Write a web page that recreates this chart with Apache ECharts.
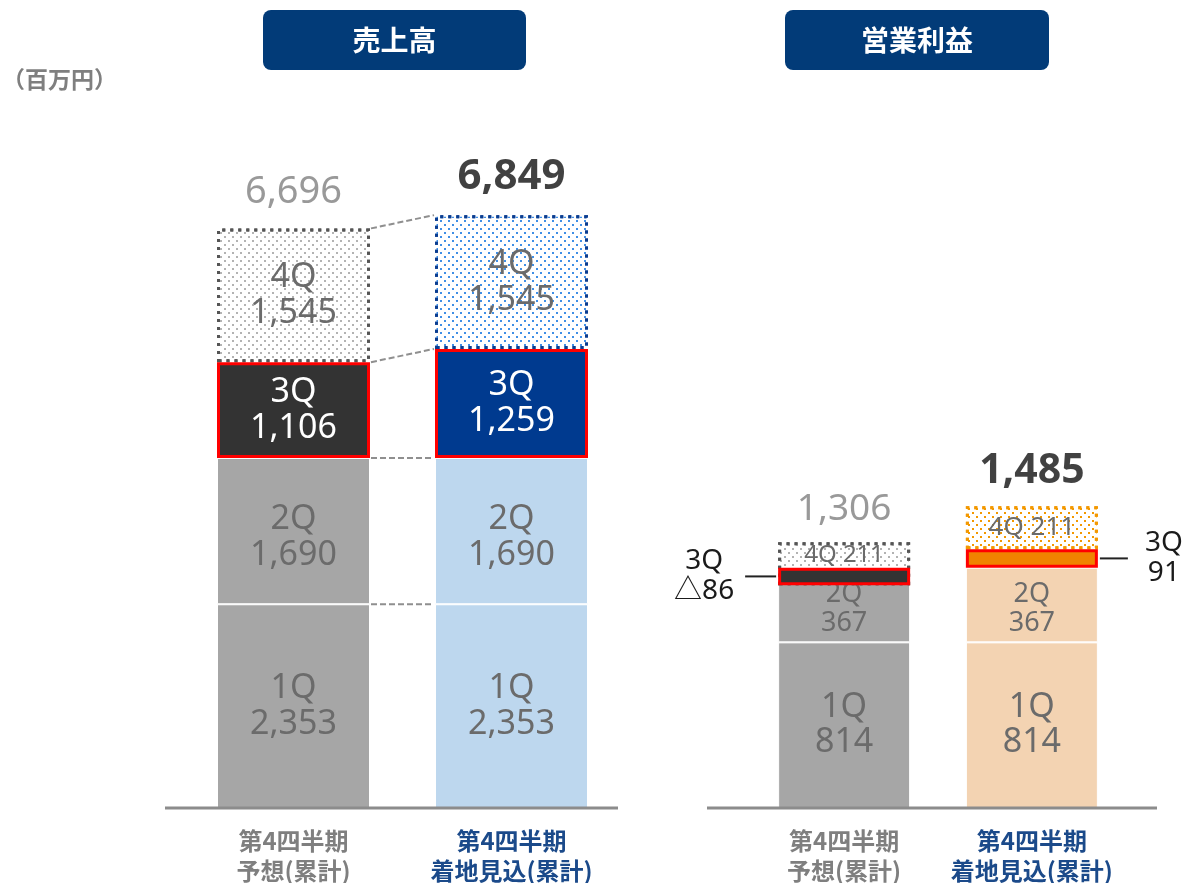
<!DOCTYPE html>
<html>
<head>
<meta charset="utf-8">
<script src="https://cdn.jsdelivr.net/npm/echarts@6/dist/echarts.min.js"></script>
<style>
html, body { margin: 0; padding: 0; background: #fff; }
#main { width: 1186px; height: 883px; }
</style>
</head>
<body>
<div id="main"></div>
<script>
// data
var categories = ['第4四半期\n予想(累計)', '第4四半期\n着地見込(累計)'];
var sales1Q = [2353, 2353];
var sales2Q = [1690, 1690];
var sales3Q = [1106, 1259];
var sales4Q = [1545, 1545];
var salesTotal = [6696, 6849];
var op1Q = [814, 814];
var op2Q = [367, 367];
var op3Q = [-86, 91];
var op4Q = [211, 211];
var opTotal = [1306, 1485];

var FF = "'Noto Sans CJK JP', 'Noto Sans', sans-serif";
var NF = "'Noto Sans', 'Noto Sans CJK JP', sans-serif";
var fmt = function (v) {
    return v < 0 ? '△' + Math.abs(v).toLocaleString('en-US') : v.toLocaleString('en-US');
};

var SALES_BW = 153, OP_BW = 132;

function dotDecal(color) {
    return {
        symbol: 'rect',
        symbolSize: 1,
        color: color,
        dashArrayX: [[2, 6], [0, 4, 2, 2]],
        dashArrayY: [2, 2]
    };
}

// 積み上げ用の item を作る
function items(arr, fn) {
    return arr.map(function (v, i) {
        var o = fn(i);
        o.value = v;
        return o;
    });
}

var innerLabel = {
    show: true,
    position: 'inside',
    color: '#6b6b6b',
    fontSize: 34,
    lineHeight: 36,
    fontFamily: NF
};

function chart() {
    var myChart = echarts.init(document.getElementById('main'));

    var salesFill = ['#a6a6a6', '#bdd7ee'];
    var sales3Fill = ['#333333', '#003a8f'];
    var salesDot = ['#b3b3b3', '#3f8fe6'];
    var salesDotBorder = ['#555555', '#0a3d91'];
    var opFill = ['#a6a6a6', '#f3d3b2'];
    var op3Fill = ['#333333', '#f08300'];
    var opDot = ['#b3b3b3', '#f39800'];
    var opDotBorder = ['#555555', '#f39800'];

    var option = {
        animation: false,
        grid: [
            { left: 184.5, right: 565.5, top: 115.3, bottom: 75, outerBoundsMode: 'none' },
            { left: 750.25, right: 60.25, top: 401, bottom: 75, outerBoundsMode: 'none' }
        ],
        xAxis: [0, 1].map(function (g) {
            return {
                type: 'category',
                gridIndex: g,
                data: [
                    { value: categories[0], textStyle: { color: '#7f7f7f' } },
                    { value: categories[1], textStyle: { color: '#1b4a8a' } }
                ],
                axisLine: { show: false },
                axisTick: { show: false },
                axisLabel: {
                    interval: 0,
                    margin: 18,
                    fontSize: 24,
                    lineHeight: 30,
                    fontWeight: 'bold',
                    fontFamily: FF
                }
            };
        }),
        yAxis: [
            { type: 'value', gridIndex: 0, min: 0, max: 8000, show: false },
            { type: 'value', gridIndex: 1, min: 0, max: 2000, show: false }
        ],
        series: [
            // 売上高
            {
                name: '1Q', type: 'bar', stack: 'sales', barWidth: SALES_BW,
                data: items(sales1Q, function (i) {
                    return { itemStyle: { color: salesFill[i], borderColor: '#fff', borderWidth: 1 } };
                }),
                label: Object.assign({}, innerLabel, { formatter: function (p) { return '1Q\n' + fmt(p.value); } })
            },
            {
                name: '2Q', type: 'bar', stack: 'sales', barWidth: SALES_BW,
                data: items(sales2Q, function (i) {
                    return { itemStyle: { color: salesFill[i], borderColor: '#fff', borderWidth: 1 } };
                }),
                label: Object.assign({}, innerLabel, { offset: [0, 6], formatter: function (p) { return '2Q\n' + fmt(p.value); } })
            },
            {
                name: '3Q', type: 'bar', stack: 'sales', barWidth: SALES_BW, z: 3,
                data: items(sales3Q, function (i) {
                    return { itemStyle: { color: sales3Fill[i], borderColor: '#ff0000', borderWidth: 3 } };
                }),
                label: Object.assign({}, innerLabel, { color: '#fff', formatter: function (p) { return '3Q\n' + fmt(p.value); } })
            },
            {
                name: '4Q', type: 'bar', stack: 'sales', barWidth: SALES_BW,
                data: items(sales4Q, function (i) {
                    return {
                        itemStyle: {
                            color: '#fff',
                            decal: dotDecal(salesDot[i]),
                            borderColor: salesDotBorder[i],
                            borderWidth: 3,
                            borderType: [3, 5]
                        }
                    };
                }),
                label: Object.assign({}, innerLabel, { formatter: function (p) { return '4Q\n' + fmt(p.value); } })
            },
            {
                name: 'total', type: 'scatter', symbolSize: 0,
                itemStyle: { color: '#fff' },
                data: items(salesTotal, function (i) {
                    return {
                        label: i === 0
                            ? { color: '#808080', fontSize: 38, fontWeight: 'normal' }
                            : { color: '#111111', fontSize: 42, fontWeight: 'bold' }
                    };
                }),
                label: {
                    show: true, position: 'top', distance: 17, fontFamily: NF,
                    formatter: function (p) { return fmt(p.value); }
                }
            },
            // 営業利益
            {
                name: '1Q', type: 'bar', stack: 'op', stackStrategy: 'all', barWidth: OP_BW,
                xAxisIndex: 1, yAxisIndex: 1,
                data: items(op1Q, function (i) {
                    return { itemStyle: { color: opFill[i], borderColor: '#fff', borderWidth: 1 } };
                }),
                label: Object.assign({}, innerLabel, { lineHeight: 35, formatter: function (p) { return '1Q\n' + fmt(p.value); } })
            },
            {
                name: '2Q', type: 'bar', stack: 'op', stackStrategy: 'all', barWidth: OP_BW,
                xAxisIndex: 1, yAxisIndex: 1,
                data: items(op2Q, function (i) {
                    return { itemStyle: { color: opFill[i], borderColor: '#fff', borderWidth: 1 } };
                }),
                label: Object.assign({}, innerLabel, {
                    position: 'insideBottom', distance: 5, fontSize: 27, lineHeight: 29,
                    formatter: function (p) { return '2Q\n' + fmt(p.value); }
                })
            },
            {
                name: '3Q', type: 'bar', stack: 'op', stackStrategy: 'all', barWidth: OP_BW,
                xAxisIndex: 1, yAxisIndex: 1, z: 3,
                data: items(op3Q, function (i) {
                    return {
                        itemStyle: { color: op3Fill[i], borderColor: '#ff0000', borderWidth: 3 },
                        label: i === 0
                            ? { position: 'left', distance: 74, align: 'center' }
                            : { position: 'right', distance: 66, align: 'center' }
                    };
                }),
                label: {
                    show: true, color: '#1a1a1a', fontSize: 28, lineHeight: 30, fontFamily: NF,
                    formatter: function (p) { return '3Q\n' + fmt(p.value); }
                }
            },
            {
                name: '4Q', type: 'bar', stack: 'op', stackStrategy: 'all', barWidth: OP_BW,
                xAxisIndex: 1, yAxisIndex: 1,
                data: items(op4Q, function (i) {
                    return {
                        itemStyle: {
                            color: '#fff',
                            decal: dotDecal(opDot[i]),
                            borderColor: opDotBorder[i],
                            borderWidth: 3,
                            borderType: [3, 5]
                        },
                        label: i === 0
                            ? { position: 'insideTop', distance: 1, fontSize: 24, lineHeight: 24 }
                            : { position: 'inside' }
                    };
                }),
                label: Object.assign({}, innerLabel, { fontSize: 26, lineHeight: 28, formatter: function (p) { return '4Q ' + fmt(p.value); } })
            },
            {
                name: 'total', type: 'scatter', symbolSize: 0,
                xAxisIndex: 1, yAxisIndex: 1,
                itemStyle: { color: '#fff' },
                data: items(opTotal, function (i) {
                    return {
                        label: i === 0
                            ? { color: '#808080', fontSize: 37, fontWeight: 'normal' }
                            : { color: '#111111', fontSize: 41, fontWeight: 'bold' }
                    };
                }),
                label: {
                    show: true, position: 'top', distance: 14, fontFamily: NF,
                    formatter: function (p) { return fmt(p.value); }
                }
            }
        ]
    };

    myChart.setOption(option);

    // 補助線などはスケールから座標を取って描く
    var g = [];
    function titleBox(x, w, text) {
        g.push({
            type: 'rect', shape: { x: x, y: 10, width: w, height: 60, r: 8 },
            style: { fill: '#023b78' }
        });
        g.push({
            type: 'text', x: x + w / 2, y: 40,
            style: { text: text, fill: '#fff', fontSize: 28, fontWeight: 'bold', fontFamily: FF, align: 'center', verticalAlign: 'middle' }
        });
    }
    titleBox(263, 263, '売上高');
    titleBox(785, 264, '営業利益');

    g.push({
        type: 'text', x: 2, y: 79,
        style: { text: '（百万円）', fill: '#7f7f7f', fontSize: 23, fontWeight: 'bold', fontFamily: FF, verticalAlign: 'middle' }
    });

    // 軸線
    var base = myChart.convertToPixel({ yAxisIndex: 0 }, 0);
    g.push({ type: 'line', z: 10, shape: { x1: 165, y1: base, x2: 618, y2: base }, style: { stroke: '#8c8c8c', lineWidth: 3 } });
    g.push({ type: 'line', z: 10, shape: { x1: 707, y1: base, x2: 1157, y2: base }, style: { stroke: '#8c8c8c', lineWidth: 3 } });

    // 売上高の破線（積み上げ境界どうしを結ぶ）
    var xl = myChart.convertToPixel({ xAxisIndex: 0 }, 0) + SALES_BW / 2 + 1;
    var xr = myChart.convertToPixel({ xAxisIndex: 0 }, 1) - SALES_BW / 2 - 1;
    var cumL = 0, cumR = 0;
    [sales1Q, sales2Q, sales3Q, sales4Q].forEach(function (arr) {
        cumL += arr[0];
        cumR += arr[1];
        g.push({
            type: 'line',
            shape: {
                x1: xl, y1: myChart.convertToPixel({ yAxisIndex: 0 }, cumL),
                x2: xr, y2: myChart.convertToPixel({ yAxisIndex: 0 }, cumR)
            },
            style: { stroke: '#8f8f8f', lineWidth: 2, lineDash: [6, 3] }
        });
    });

    // 営業利益 3Q の引き出し線
    var s12 = op1Q.map(function (v, i) { return v + op2Q[i]; });
    var y3L = myChart.convertToPixel({ yAxisIndex: 1 }, s12[0] + op3Q[0] / 2);
    var y3R = myChart.convertToPixel({ yAxisIndex: 1 }, s12[1] + op3Q[1] / 2);
    var oxl = myChart.convertToPixel({ xAxisIndex: 1 }, 0) - OP_BW / 2;
    var oxr = myChart.convertToPixel({ xAxisIndex: 1 }, 1) + OP_BW / 2;
    g.push({ type: 'line', shape: { x1: oxl - 33, y1: y3L, x2: oxl - 2, y2: y3L }, style: { stroke: '#222', lineWidth: 2 } });
    g.push({ type: 'line', shape: { x1: oxr + 2, y1: y3R, x2: oxr + 30, y2: y3R }, style: { stroke: '#222', lineWidth: 2 } });

    myChart.setOption({ graphic: g });
}

window.onload = function () {
    chart();
};
</script>
</body>
</html>
